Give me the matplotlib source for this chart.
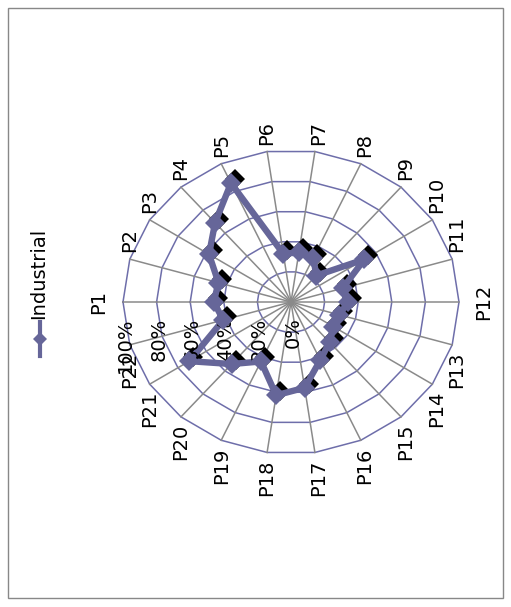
import numpy as np
import matplotlib
matplotlib.use("Agg")
import matplotlib.pyplot as plt
from matplotlib.lines import Line2D
from matplotlib.patches import Rectangle
from matplotlib.transforms import offset_copy

# data
categories = ["P%d" % i for i in range(1, 23)]
industrial = [0.46, 0.45, 0.58, 0.69, 0.86, 0.32, 0.33, 0.32, 0.23, 0.52, 0.32,
              0.34, 0.30, 0.30, 0.35, 0.42, 0.57, 0.62, 0.43, 0.54, 0.72, 0.42]
ring_levels = [0.2, 0.4, 0.6, 0.8, 1.0]
tick_levels = [0.0, 0.2, 0.4, 0.6, 0.8, 1.0]
tick_labels = ["0%", "20%", "40%", "60%", "80%", "100%"]
series_name = "Industrial"

series_color = "#666699"
ring_color = "#6e6eaa"
spoke_color = "#8a8a8a"

fig = plt.figure(figsize=(5.11, 6.07), dpi=100)
W, H = 511, 607
ax = fig.add_axes([123 / W, 1 - 454 / H, 336 / W, 304 / H], projection="polar")
ax.set_aspect("auto")
ax.set_theta_offset(np.pi)
ax.set_theta_direction(-1)
ax.set_ylim(0, 1)
ax.grid(False)
ax.set_xticks([])
ax.set_yticks([])
ax.spines["polar"].set_visible(False)
ax.patch.set_visible(False)

n = len(categories)
theta = np.arange(n) * 2 * np.pi / n
theta_closed = np.append(theta, theta[0])

# grid: polygon rings + spokes
for r in ring_levels:
    ax.plot(theta_closed, [r] * (n + 1), color=ring_color, lw=1.1, clip_on=False, zorder=1)
for t in theta:
    ax.plot([t, t], [0, 1], color=spoke_color, lw=1.1, clip_on=False, zorder=1)

# series line
vals = np.append(industrial, industrial[0])
ax.plot(theta_closed, vals, color=series_color, lw=4.6, zorder=3, clip_on=False)

# marker shadows, then markers
shadow = offset_copy(ax.transData, fig=fig, x=4, y=4, units="dots")
ax.plot(theta, industrial, "D", color="black", ms=10, mew=0, transform=shadow, zorder=2.5, clip_on=False)
ax.plot(theta, industrial, "D", color=series_color, ms=10, mew=0, zorder=4, clip_on=False)

# category labels
for t, lab in zip(theta, categories):
    s = np.sin(t)
    c = -np.cos(t)
    if abs(s) < 0.1:
        ha = "right" if c < 0 else "left"
        ax.annotate(lab, xy=(t, 1.0), xytext=(11 if c > 0 else -11, 0), textcoords="offset points",
                    rotation=90, ha=ha, va="center", fontsize=14, annotation_clip=False)
    else:
        va = "bottom" if s > 0 else "top"
        ax.annotate(lab, xy=(t, 1.0), xytext=(1.5 + 1.5 * np.sign(c), 5 if s > 0 else -5),
                    textcoords="offset points", rotation=90, ha="center", va=va,
                    fontsize=14, annotation_clip=False)

# radial tick labels along P1 spoke
for r, lab in zip(tick_levels, tick_labels):
    ax.annotate(lab, xy=(0, r), xytext=(1.5, -11), textcoords="offset points",
                rotation=90, ha="center", va="top", fontsize=14, annotation_clip=False)

# legend
fig.add_artist(Line2D([40 / W, 40 / W], [1 - 356 / H, 1 - 322 / H], color=series_color, lw=3))
fig.add_artist(Line2D([40 / W], [1 - 339 / H], marker="D", ms=7, color=series_color, mew=0))
fig.text(39 / W, 1 - 273 / H, series_name, rotation=90, ha="center", va="center", fontsize=14)

# chart border
fig.add_artist(Rectangle((8 / W, 1 - 598 / H), 495 / W, 590 / H, fill=False,
                         edgecolor="#888888", lw=1, transform=fig.transFigure))

fig.savefig("out.png", dpi=100)
